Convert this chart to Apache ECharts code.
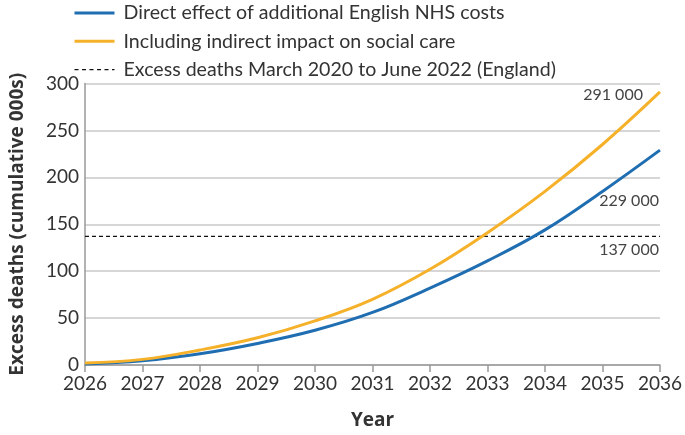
<!DOCTYPE html>
<html>
<head>
<meta charset="utf-8">
<script src="https://cdn.jsdelivr.net/npm/echarts@6/dist/echarts.min.js"></script>
<style>
html,body{margin:0;padding:0;background:#fff;}
#c{width:685px;height:435px;}
</style>
</head>
<body>
<div id="c"></div>
<script>
const years = ['2026','2027','2028','2029','2030','2031','2032','2033','2034','2035','2036'];
const directNHS = [1, 4.5, 12, 23, 37, 56, 82, 111, 144, 185, 229];
const withSocialCare = [2, 6, 16, 29, 47, 70, 102, 141, 185, 235, 291];
const excessDeaths = 137;
const seriesNames = ['Direct effect of additional English NHS costs','Including indirect impact on social care','Excess deaths March 2020 to June 2022 (England)'];
const endLabels = ['229 000','291 000','137 000'];
const yTicks = {min:0, max:300, interval:50};

const FONT = 'Lato, "Open Sans", sans-serif';
const NAMEFONT = '"Open Sans", Lato, sans-serif';
const BLUE = '#1f6eb2', ORANGE = '#f5b12a';
const chart = echarts.init(document.getElementById('c'), null, {renderer:'canvas'});
chart.setOption({
  animation:false,
  backgroundColor:'#fff',
  grid:{left:74, right:24, top:83.5, bottom:63, containLabel:false},
  legend:{
    orient:'vertical', left:73, top:3, padding:0, itemWidth:40, itemHeight:18, itemGap:8.3,
    itemStyle:{opacity:0},
    textStyle:{fontFamily:FONT, fontSize:19.6, lineHeight:18, color:'#333', padding:[0,0,0,4]},
    data:[
      {name:seriesNames[0], lineStyle:{color:BLUE, width:3}},
      {name:seriesNames[1], lineStyle:{color:ORANGE, width:3}},
      {name:seriesNames[2], lineStyle:{color:'#111', width:1.2, type:[4,3.5]}}
    ]
  },
  xAxis:{
    type:'category', data:years, boundaryGap:false,
    name:'Year', nameLocation:'middle', nameGap:46,
    nameTextStyle:{fontFamily:NAMEFONT, fontSize:19, fontWeight:'bold', color:'#333'},
    axisLine:{lineStyle:{color:'#999', width:1.5}},
    axisTick:{show:true, length:7, lineStyle:{color:'#999', width:1.5}},
    axisLabel:{fontFamily:FONT, fontSize:19, color:'#333', margin:9, interval:0},
    splitLine:{show:false}
  },
  yAxis:{
    type:'value', min:yTicks.min, max:yTicks.max, interval:yTicks.interval,
    name:'Excess deaths (cumulative 000s)', nameLocation:'middle', nameGap:58,
    nameTextStyle:{fontFamily:NAMEFONT, fontSize:19, fontWeight:'bold', color:'#333'},
    axisLine:{show:true, lineStyle:{color:'#999', width:1.5}},
    axisTick:{show:false},
    axisLabel:{fontFamily:FONT, fontSize:19, color:'#333', margin:6},
    splitLine:{lineStyle:{color:'#c8c8c8', width:1.5}}
  },
  series:[
    {
      name:seriesNames[0], type:'line', data:directNHS, smooth:0.4, symbol:'none', z:3,
      lineStyle:{color:BLUE, width:3}, itemStyle:{color:BLUE},
      endLabel:{show:true, formatter:endLabels[0], align:'right', offset:[-9,51],
        fontFamily:FONT, fontSize:16, color:'#444'}
    },
    {
      name:seriesNames[1], type:'line', data:withSocialCare, smooth:0.4, symbol:'none', z:4,
      lineStyle:{color:ORANGE, width:3}, itemStyle:{color:ORANGE},
      endLabel:{show:true, formatter:endLabels[1], align:'right', offset:[-25,3],
        fontFamily:FONT, fontSize:16, color:'#444'}
    },
    {
      name:seriesNames[2], type:'line', data:years.map(()=>excessDeaths), symbol:'none', z:2,
      lineStyle:{color:'#111', width:1.2, type:[4,3]}, itemStyle:{color:'#111'},
      endLabel:{show:true, formatter:endLabels[2], align:'right', offset:[-9,13],
        fontFamily:FONT, fontSize:16, color:'#444'}
    }
  ]
});
</script>
</body>
</html>
